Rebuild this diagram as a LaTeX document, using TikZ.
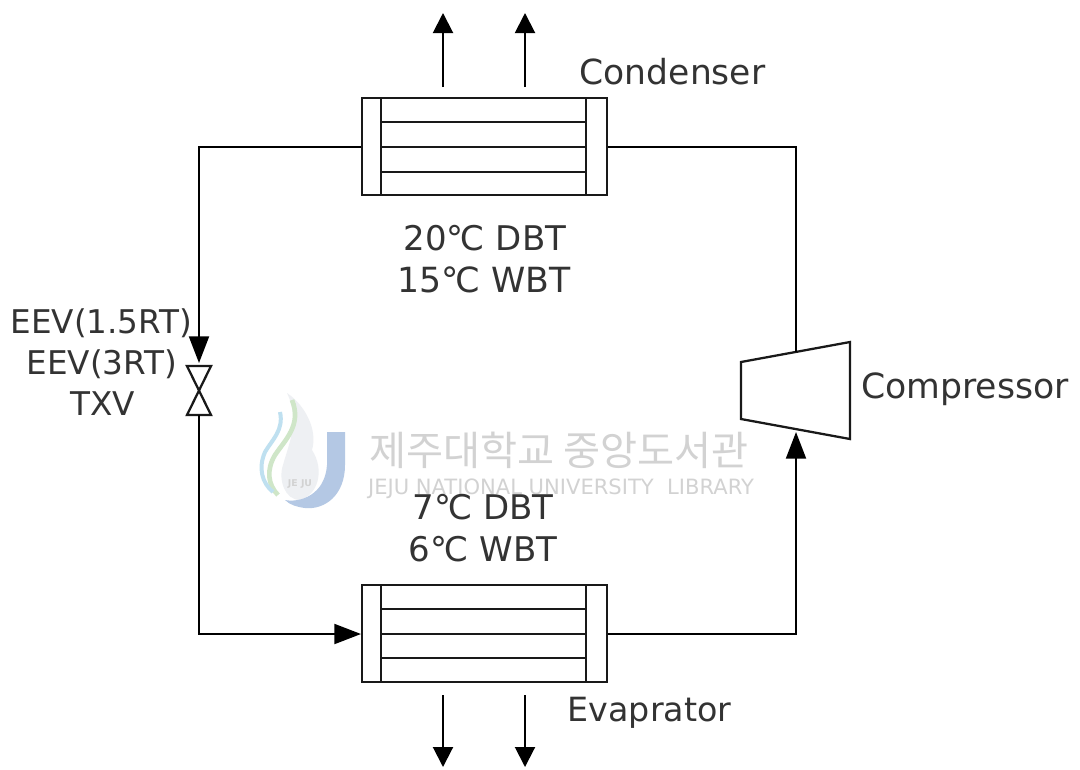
\documentclass[tikz,border=0pt]{standalone}
\usepackage{fontspec}
\setmainfont{DejaVu Sans}
\newfontfamily\krfont{Noto Sans CJK KR}
\usetikzlibrary{arrows.meta}
\definecolor{txt}{HTML}{333333}
\definecolor{wm}{HTML}{D2D2D2}
\definecolor{jblue}{HTML}{B4C8E4}
\definecolor{jgray}{HTML}{EEF0F3}
\definecolor{jgreen}{HTML}{CFE6C8}
\definecolor{jsky}{HTML}{BFE0F0}
\tikzset{
  x=0.75pt,y=-0.75pt,
  pipe/.style={draw=black,line width=1.5pt},
  box/.style={draw=black!90,line width=1.7pt,fill=white},
  tipped/.style={pipe,-{Triangle[length=20pt,width=15pt]}},
  small/.style={pipe,-{Triangle[length=15pt,width=15pt]}},
  lab/.style={text=txt,inner sep=0pt,align=center},
  coil/.style={draw=none,minimum width=245*0.75pt,minimum height=97*0.75pt,inner sep=0pt}
}
\begin{document}
\begin{tikzpicture}
\useasboundingbox (0,0) rectangle (1080,769);
\fill[white] (0,0) rectangle (1080,769);
% watermark logo
\fill[jgray] (287,393) .. controls (305,405) and (318,430) .. (312,450) .. controls (325,470) and (318,495) .. (300,500) .. controls (285,500) and (278,480) .. (283,465) .. controls (290,440) and (300,420) .. (287,393) -- cycle;
\fill[jblue] (327,432) -- (345,432) -- (345,465) .. controls (345,495) and (325,510) .. (305,508) .. controls (297,507) and (290,505) .. (285,500) .. controls (300,503) and (325,495) .. (327,465) -- cycle;
\draw[jgreen,line width=3.5pt] (292,400) .. controls (302,425) and (285,440) .. (275,455) .. controls (266,470) and (268,485) .. (278,495);
\draw[jsky,line width=3pt] (280,412) .. controls (284,430) and (272,440) .. (265,452) .. controls (258,468) and (262,483) .. (273,492);
\node[wm,font=\fontsize{7}{8}\selectfont\bfseries,inner sep=0pt] (logo) at (300,484) {JE JU};
\node[wm,font=\krfont\fontsize{30.2}{34}\selectfont,inner sep=0pt] (wmk) at (559,450) {제주대학교 중앙도서관};
\node[wm,font=\fontsize{15.8}{18}\selectfont,inner sep=0pt] (wme) at (561,489) {JEJU NATIONAL UNIVERSITY\ \ LIBRARY};
% heat exchangers
\node[coil,box] (cond) at (484.5,146.5) {};
\node[coil,box] (evap) at (484.5,633.5) {};
\foreach \t/\a/\b/\c/\bt in {98/122/147/172/195,585/609/634/658/682}{
  \draw[box] (381,\t) -- (381,\bt);
  \draw[box] (586,\t) -- (586,\bt);
  \draw[box] (381,\a) -- (586,\a);
  \draw[box] (381,\b) -- (586,\b);
  \draw[box] (381,\c) -- (586,\c);
}
% valve
\coordinate (vt) at (199,363);
\coordinate (vb) at (199,415);
\draw[box,fill=none] (187,366) -- (211,366) -- (187,415) -- (211,415) -- cycle;
% compressor
\draw[box] (741,362) -- (850,342) -- (850,439) -- (741,419) -- cycle;
\coordinate (ctop) at (796,352);
\coordinate (cbot) at (796,432);
% pipes
\coordinate (ein) at (361,634);
\draw[tipped] (cond.west) -- (199,146.5) -- (vt);
\draw[tipped] (vb) -- (199,634) -- (ein);
\draw[tipped] (evap.east) -- (796,633.5) -- (cbot);
\draw[pipe] (cond.east) -- (796,146.5) -- (ctop);
% air arrows
\coordinate (a1) at (443,87);\coordinate (a2) at (443,13);
\coordinate (b1) at (525,87);\coordinate (b2) at (525,13);
\coordinate (c1) at (443,695);\coordinate (c2) at (443,767);
\coordinate (d1) at (525,695);\coordinate (d2) at (525,767);
\draw[small] (a1) -- (a2);
\draw[small] (b1) -- (b2);
\draw[small] (c1) -- (c2);
\draw[small] (d1) -- (d2);
% labels
\node[lab,font=\fontsize{25.9}{30}\selectfont] (l1) at (672.5,72) {Condenser};
\node[lab,font=\fontsize{25}{30}\selectfont] (l2) at (649.5,713) {Evaprator};
\node[lab,font=\fontsize{26}{30}\selectfont] (l3) at (965,389) {Compressor};
\node[lab,font=\fontsize{25.5}{30}\selectfont] (l4a) at (485,238) {20℃ DBT};
\node[lab,font=\fontsize{26}{30}\selectfont] (l4b) at (484,280) {15℃ WBT};
\node[lab,font=\fontsize{25.5}{30}\selectfont] (l5a) at (483,507) {7℃ DBT};
\node[lab,font=\fontsize{25.5}{30}\selectfont] (l5b) at (483,549) {6℃ WBT};
\node[lab,anchor=east,font=\fontsize{24.5}{30}\selectfont] (l6) at (192,323) {EEV(1.5RT)};
\node[lab,anchor=east,font=\fontsize{24.5}{30}\selectfont] (l7) at (177,364) {EEV(3RT)};
\node[lab,font=\fontsize{24.5}{30}\selectfont] (l8) at (103,404) {TXV};
\end{tikzpicture}
\end{document}
